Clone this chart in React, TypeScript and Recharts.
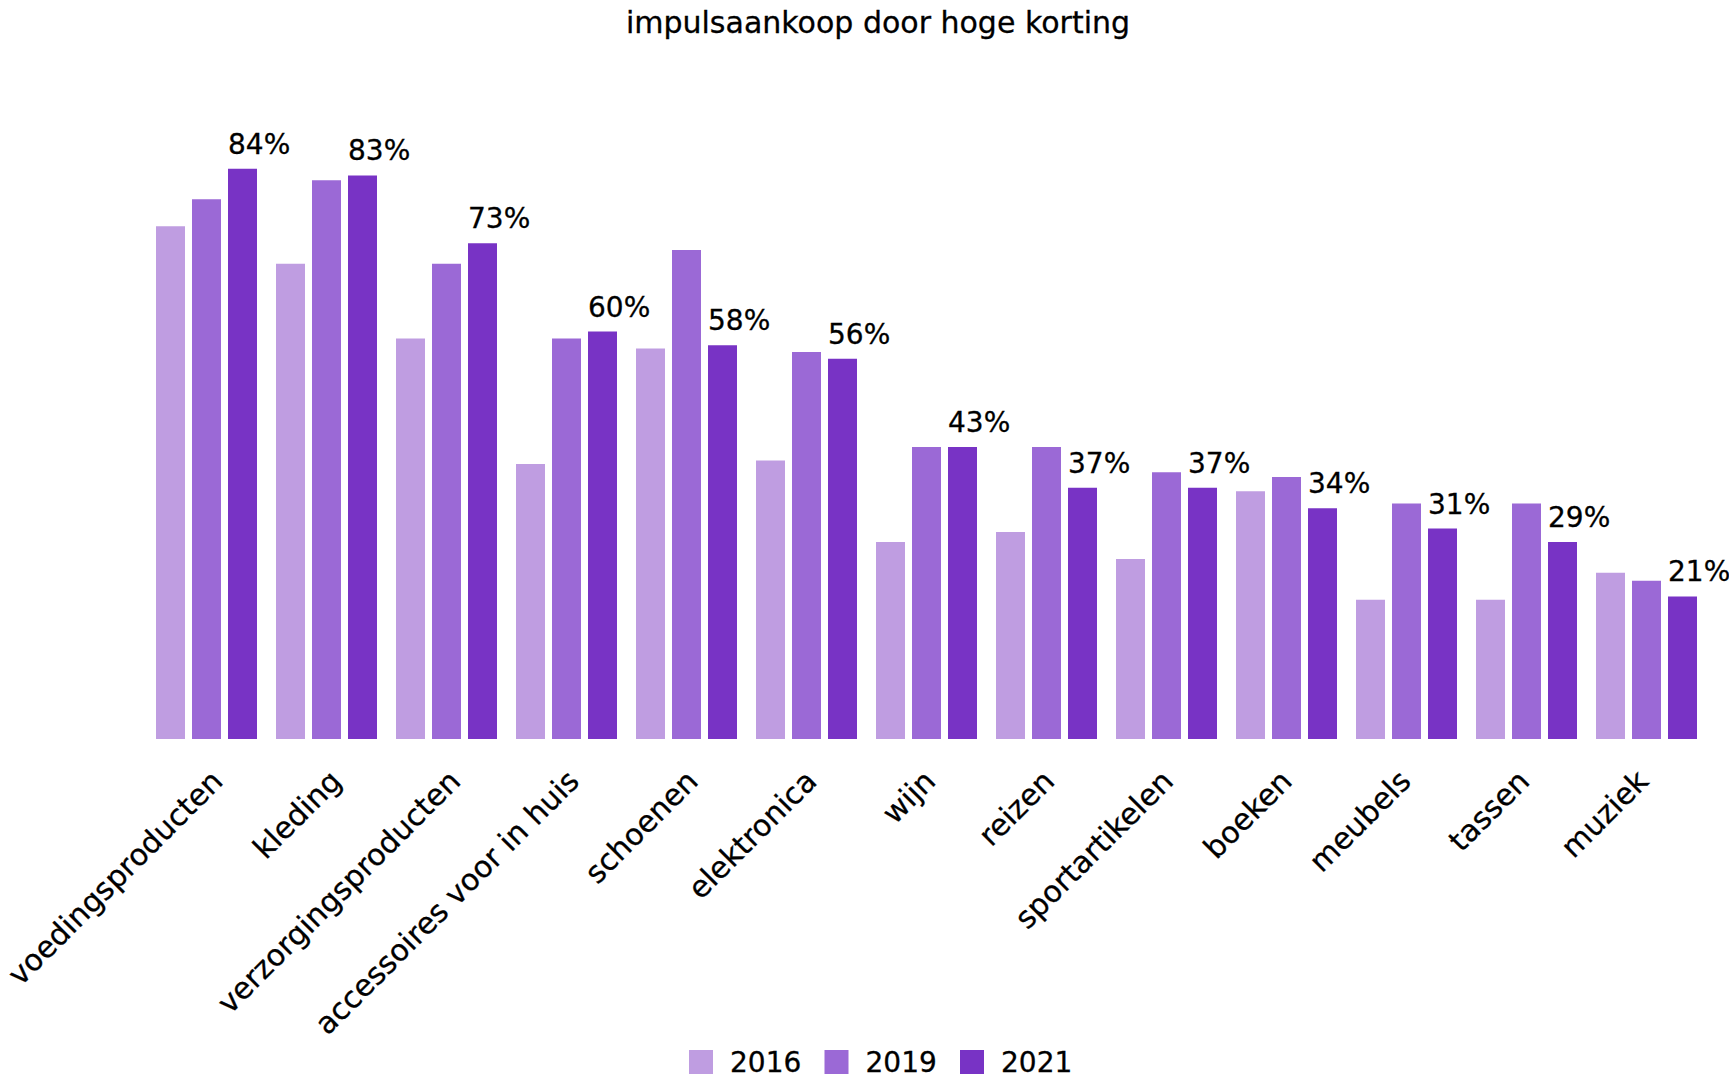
import { BarChart, Bar, XAxis, YAxis, LabelList } from 'recharts';

const categories = [
  'voedingsproducten',
  'kleding',
  'verzorgingsproducten',
  'accessoires voor in huis',
  'schoenen',
  'elektronica',
  'wijn',
  'reizen',
  'sportartikelen',
  'boeken',
  'meubels',
  'tassen',
  'muziek',
];

const years = ['2016', '2019', '2021'];

// only 2021 is labelled
const values2016 = [75.5, 70, 59, 40.5, 57.5, 41, 29, 30.5, 26.5, 36.5, 20.5, 20.5, 24.5];
const values2019 = [79.5, 82.3, 70, 59, 72, 57, 43, 43, 39.3, 38.6, 34.7, 34.7, 23.3];
const values2021 = [84, 83, 73, 60, 58, 56, 43, 37, 37, 34, 31, 29, 21];

const COLORS = ['#BF9DE1', '#9B69D6', '#7833C5'];
const FONT = '"DejaVu Sans", sans-serif';

const data = categories.map((name, i) => ({
  name,
  y2016: values2016[i],
  y2019: values2019[i],
  y2021: values2021[i],
}));

function AngledTick(props: any) {
  const { x, y, payload, index } = props;
  // labels sit a little right of the group centre, drifting left across the axis
  const dx = 18.5 - 1.2 * index;
  return (
    <g transform={`translate(${x + dx},${y + 44})`}>
      <text
        textAnchor="end"
        transform="rotate(-45)"
        fontFamily={FONT}
        fontSize={30}
        fill="#000"
        stroke="#000"
        strokeWidth={0.3}
      >
        {payload.value}
      </text>
    </g>
  );
}

function TopLabel(props: any) {
  const { x, y, value } = props;
  return (
    <text
      x={Number(x)}
      y={Number(y) - 15}
      fontFamily={FONT}
      fontSize={28}
      fill="#000"
      stroke="#000"
      strokeWidth={0.3}
    >
      {value}%
    </text>
  );
}

export default function App() {
  return (
    <div style={{ position: 'absolute', left: 0, top: 0, width: 1729, height: 1081, background: '#fff' }}>
      <BarChart
        width={1729}
        height={1081}
        data={data}
        margin={{ top: 60, right: 23, bottom: 312, left: 146 }}
        barCategoryGap={10}
        barGap={7}
      >
        <XAxis
          dataKey="name"
          axisLine={false}
          tickLine={false}
          tickSize={0}
          tickMargin={0}
          interval={0}
          tick={<AngledTick />}
        />
        <YAxis hide domain={[0, 100]} />
        <Bar dataKey="y2016" name="2016" fill={COLORS[0]} isAnimationActive={false} />
        <Bar dataKey="y2019" name="2019" fill={COLORS[1]} isAnimationActive={false} />
        <Bar dataKey="y2021" name="2021" fill={COLORS[2]} isAnimationActive={false}>
          <LabelList dataKey="y2021" content={<TopLabel />} />
        </Bar>
      </BarChart>
      <svg
        width={1729}
        height={1081}
        style={{ position: 'absolute', left: 0, top: 0, pointerEvents: 'none' }}
      >
        <text
          x={878}
          y={33}
          textAnchor="middle"
          fontFamily={FONT}
          fontSize={30}
          fill="#000"
          stroke="#000"
          strokeWidth={0.3}
        >
          impulsaankoop door hoge korting
        </text>
        {years.map((year, i) => (
          <g key={year} transform={`translate(${689 + i * 135.5},1050)`}>
            <rect width={24} height={24} fill={COLORS[i]} />
            <text x={41} y={22} fontFamily={FONT} fontSize={28} fill="#000" stroke="#000" strokeWidth={0.3}>
              {year}
            </text>
          </g>
        ))}
      </svg>
    </div>
  );
}
